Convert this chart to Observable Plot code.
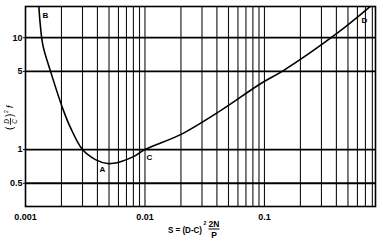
<!DOCTYPE html>
<html>
<head>
<meta charset="utf-8">
<script src="https://cdn.jsdelivr.net/npm/d3@7"></script>
<script src="https://cdn.jsdelivr.net/npm/@observablehq/plot@0.6"></script>
<style>
  html, body { margin: 0; padding: 0; background: #fff; }
  svg { display: block; }
</style>
</head>
<body>
<div id="chart"></div>
<script>
// Tick labels
const xTicks = [0.001, 0.01, 0.1];
const xTickLabels = ["0.001", "0.01", "0.1"];
const yTicks = [0.5, 1, 5, 10];
const yTickLabels = ["0.5", "1", "5", "10"];

// Grid lines
const xGrid = [0.002, 0.003, 0.004, 0.005, 0.006, 0.007, 0.008, 0.009,
               0.01, 0.02, 0.03, 0.04, 0.05, 0.06, 0.07, 0.08, 0.09,
               0.1, 0.2, 0.3, 0.4, 0.5, 0.6, 0.7, 0.8];
const yGrid = [0.5, 1, 5, 10];

// Curve
const curveS = [0.00129, 0.00133, 0.00140, 0.00162, 0.00208, 0.00238, 0.0030, 0.00385, 0.00486, 0.0055, 0.00624, 0.00802, 0.010, 0.0198, 0.0429, 0.0927, 0.144, 0.401, 0.79];
const curveF = [20, 13, 8.5, 5, 2.23, 1.57, 1.0, 0.814, 0.75, 0.755, 0.78, 0.865, 1.0, 1.36, 2.23, 3.88, 5.08, 10.85, 19.5];

// Point labels
const ptNames = ["A", "B", "C", "D"];
const ptS = [0.00441, 0.00147, 0.0109, 0.687];
const ptF = [0.663, 15.7, 0.85, 14.2];

const curve = curveS.map((s, i) => ({s, f: curveF[i]}));
const pts = ptNames.map((n, i) => ({n, s: ptS[i], f: ptF[i]}));
const xLab = new Map(xTicks.map((t, i) => [t, xTickLabels[i]]));
const yLab = new Map(yTicks.map((t, i) => [t, yTickLabels[i]]));

const chart = Plot.plot({
  width: 383,
  height: 246,
  marginLeft: 25,
  marginRight: 8,
  marginTop: 6,
  marginBottom: 40,
  style: {fontFamily: "'Liberation Sans', Arial, sans-serif", fontSize: "9px", color: "#000", background: "#fff", fontWeight: "bold"},
  x: {type: "log", domain: [0.001, 0.85], ticks: xTicks, tickFormat: d => xLab.get(d), tickSize: 0, tickPadding: 7, label: null},
  y: {type: "log", domain: [0.31, 19], ticks: yTicks, tickFormat: d => yLab.get(d), tickSize: 2, tickPadding: 1, label: null},
  marks: [
    Plot.ruleX(xGrid, {stroke: "#111", strokeWidth: 1.1}),
    Plot.ruleY(yGrid, {stroke: "#000", strokeWidth: 1.8}),
    Plot.line(curve, {x: "s", y: "f", curve: "catmull-rom", stroke: "#000", strokeWidth: 1.6, clip: true}),
    Plot.text(pts, {x: "s", y: "f", text: "n", fontSize: 8, fontWeight: "bold", fill: "#000"}),
    Plot.frame({stroke: "#000", strokeWidth: 1.6})
  ]
});

document.getElementById("chart").appendChild(chart);

// Axis titles with fractions
const svg = d3.select(chart);
const font = "'Liberation Sans', Arial, sans-serif";

function t(g, x, y, size, str, anchor, style) {
  return g.append("text").attr("x", x).attr("y", y).attr("font-size", size)
    .attr("text-anchor", anchor || "start").attr("fill", "#000")
    .attr("font-style", style || "normal").text(str);
}

// X title: S = (D-C)^2 2N/P
const xt = svg.append("g").attr("font-family", font).attr("font-weight", "bold");
t(xt, 168, 233, 9, "S = (D-C)").attr("textLength", 34).attr("lengthAdjust", "spacingAndGlyphs");
t(xt, 203.5, 225, 5, "2");
t(xt, 214, 227, 8.5, "2N", "middle");
xt.append("line").attr("x1", 208.5).attr("x2", 219.5).attr("y1", 229).attr("y2", 229).attr("stroke", "#000").attr("stroke-width", 1);
t(xt, 214, 238, 8.5, "P", "middle");

// Y title: (D/C)^2 f rotated
const yt = svg.append("g").attr("font-family", font).attr("font-weight", "normal")
  .attr("transform", "translate(10,116) rotate(-90)");
t(yt, -14, 3, 10, "(");
t(yt, -5.5, -1, 6.5, "D", "middle", "italic");
yt.append("line").attr("x1", -9).attr("x2", -2).attr("y1", 0.5).attr("y2", 0.5).attr("stroke", "#000").attr("stroke-width", 0.8);
t(yt, -5.5, 6.5, 6.5, "C", "middle", "italic");
t(yt, -1, 3, 10, ")");
t(yt, 3, -2, 5, "2");
t(yt, 8, 3, 9, "f", "start", "italic");
</script>
</body>
</html>
